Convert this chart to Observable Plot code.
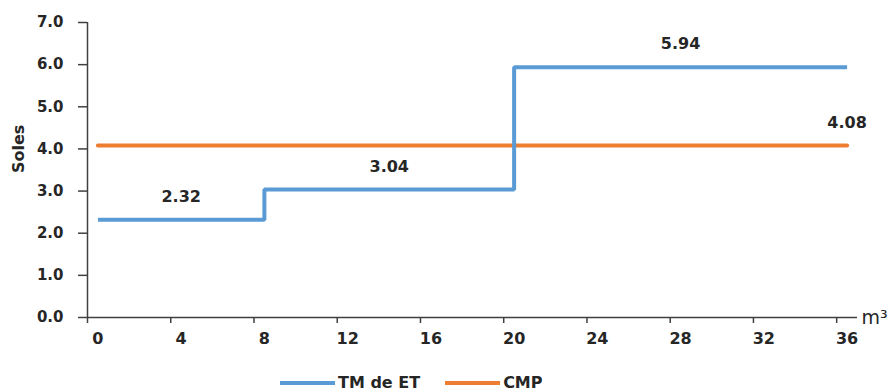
<!DOCTYPE html>
<html>
<head>
<meta charset="utf-8">
<script src="https://cdn.jsdelivr.net/npm/d3@7"></script>
<script src="https://cdn.jsdelivr.net/npm/@observablehq/plot@0.6"></script>
<style>
  body { margin: 0; background: #fff; font-family: "DejaVu Sans", sans-serif; color: #262626; }
  #legend { display: flex; align-items: center; margin-left: 280px; padding-top: 3px; height: 16px; line-height: 16px; font-size: 16px; font-weight: bold; }
  #legend .item { display: flex; align-items: center; margin-right: 25px; }
  #legend svg { margin-right: 3px; }
</style>
</head>
<body>
<div id="chart"></div>
<div id="legend"></div>
<script>
// Tariff steps (TM de ET) by consumption in m³
const stepX = [0, 8, 20, 36];
const stepY = [2.32, 3.04, 5.94, 5.94];
// Average cost (CMP), flat over the whole range
const cmpX = [0, 36];
const cmpY = [4.08, 4.08];
// Value labels
const labelX = [4, 14, 28, 36];
const labelY = [2.32, 3.04, 5.94, 4.08];
const labelText = ["2.32", "3.04", "5.94", "4.08"];
// Axis ticks
const xTicks = [0, 4, 8, 12, 16, 20, 24, 28, 32, 36];
const yTicks = [0, 1, 2, 3, 4, 5, 6, 7];
// Legend
const seriesNames = ["TM de ET", "CMP"];
const seriesColors = ["#5B9BD5", "#ED7D31"];

const stepData = stepX.map((x, i) => ({x, y: stepY[i]}));
const cmpData = cmpX.map((x, i) => ({x, y: cmpY[i]}));
const labels = labelX.map((x, i) => ({x, y: labelY[i], text: labelText[i]}));
// category boundaries sit half a unit before each labelled value
const xBoundaries = xTicks.map(t => t - 0.5);

const axisColor = "#404040";

const chart = Plot.plot({
  width: 892,
  height: 372,
  marginLeft: 87,
  marginRight: 35,
  marginTop: 22,
  marginBottom: 55,
  style: { fontFamily: "DejaVu Sans, sans-serif", fontWeight: "bold", fontSize: "14px", color: "#262626", background: "#fff" },
  x: { domain: [-0.5, 36.5] },
  y: { domain: [0, 7] },
  marks: [
    Plot.axisY(yTicks, { tickSize: 9, tickPadding: 15, tickFormat: d => d.toFixed(1), label: null, stroke: axisColor, strokeWidth: 1.5, fontSize: 15 }),
    Plot.axisX(xBoundaries, { tickSize: 6, tickFormat: () => "", label: null, stroke: axisColor, strokeWidth: 1.5 }),
    Plot.axisX(xTicks, { tickSize: 0, tickPadding: 15, label: null, fontSize: 16 }),
    Plot.ruleY([0], { stroke: axisColor, strokeWidth: 1.5 }),
    Plot.ruleX([-0.5], { stroke: axisColor, strokeWidth: 1.5 }),
    Plot.line(cmpData, { x: "x", y: "y", stroke: seriesColors[1], strokeWidth: 4 }),
    Plot.line(stepData, { x: "x", y: "y", curve: "step-after", stroke: seriesColors[0], strokeWidth: 4, strokeLinejoin: "miter", strokeLinecap: "butt" }),
    Plot.text(labels, { x: "x", y: "y", text: "text", dy: -23, fontSize: 16, fill: "#262626" }),
    Plot.text(["Soles"], { frameAnchor: "left", dx: -69, dy: 3, rotate: -90, fontSize: 16, fill: "#262626" }),
    Plot.text(["m³"], { frameAnchor: "bottom-right", lineAnchor: "middle", textAnchor: "start", dx: 4, dy: 0, fontSize: 19, fontWeight: "normal", fill: "#262626" })
  ]
});
document.getElementById("chart").appendChild(chart);

const legend = document.getElementById("legend");
seriesNames.forEach((name, i) => {
  const item = document.createElement("div");
  item.className = "item";
  item.innerHTML = `<svg width="55" height="4"><line x1="0" y1="2" x2="55" y2="2" stroke="${seriesColors[i]}" stroke-width="4"/></svg><span>${name}</span>`;
  legend.appendChild(item);
});
</script>
</body>
</html>
